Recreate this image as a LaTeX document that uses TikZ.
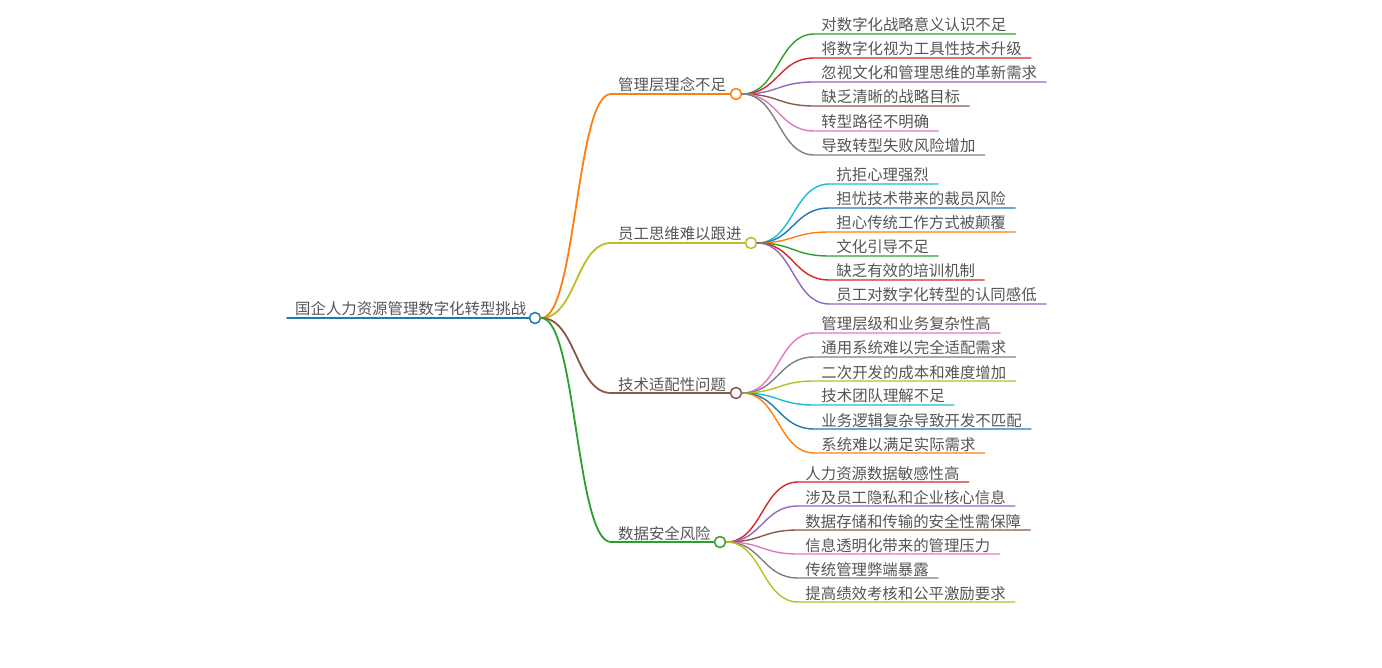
\documentclass[tikz,border=0pt]{standalone}
\usepackage{fontspec}
\setmainfont{Noto Sans CJK SC}
\usepackage{xcolor}
\usepackage{tikz}
\usetikzlibrary{calc,positioning}
\definecolor{mblue}{HTML}{1F77B4}
\definecolor{morange}{HTML}{FF7F0E}
\definecolor{mgreen}{HTML}{2CA02C}
\definecolor{mred}{HTML}{D62728}
\definecolor{mpurple}{HTML}{9467BD}
\definecolor{mbrown}{HTML}{8C564B}
\definecolor{mpink}{HTML}{E377C2}
\definecolor{mgray}{HTML}{7F7F7F}
\definecolor{molive}{HTML}{BCBD22}
\definecolor{mcyan}{HTML}{17BECF}
\definecolor{txt}{RGB}{85,85,85}

\begin{document}
\begin{tikzpicture}[x=1pt,y=-1pt,line cap=round,
  font=\fontsize{15.4}{18}\selectfont,
  dot/.style={circle,draw,fill=white,line width=1.5pt,inner sep=0pt,minimum size=11pt},
  lbl/.style={anchor=base west,inner sep=0pt,text=txt},
  link/.style={line width=1.8pt},
  twig/.style={line width=1.4pt}]
  \useasboundingbox (0,0) rectangle (1382,668);
  \node[dot,draw=mblue] (root) at (535,318) {};
  \node[lbl] (roottxt) at (295,315) {国企人力资源管理数字化转型挑战};
  \coordinate (r0) at (287,318);
  \draw[link,mblue] (r0) -- (root);
  \foreach \n/\y/\cx/\col/\txt in {1/94/736/morange/管理层理念不足, 2/243/751/molive/员工思维难以跟进, 3/393/736/mbrown/技术适配性问题, 4/542/720/mgreen/数据安全风险} {
    \node[dot,draw=\col] (b\n) at (\cx,\y) {};
    \coordinate (h\n) at (611,\y);
    \node[lbl] (t\n) at (618,\y-3) {\txt};
    \draw[link,\col] (root.east) .. controls +(35,0) and +(-35,0) .. (h\n) -- (b\n.west);
  }
  \foreach \i/\y/\col/\txt in {1/34/mgreen/对数字化战略意义认识不足, 2/58/mred/将数字化视为工具性技术升级, 3/82/mpurple/忽视文化和管理思维的革新需求, 4/106/mbrown/缺乏清晰的战略目标, 5/131/mpink/转型路径不明确, 6/155/mgray/导致转型失败风险增加} {
    \coordinate (s1\i) at ($(b1.east |- 0,\y)+(72,0)$);
    \node[lbl] (l1\i) at ($(s1\i)+(7,-3)$) {\txt};
    \draw[twig,\col] (b1.east) .. controls +(36,0) and +(-36,0) .. (s1\i) -- ($(s1\i -| l1\i.east)+(9,0)$);
  }
  \foreach \i/\y/\col/\txt in {1/184/mcyan/抗拒心理强烈, 2/208/mblue/担忧技术带来的裁员风险, 3/232/morange/担心传统工作方式被颠覆, 4/256/mgreen/文化引导不足, 5/280/mred/缺乏有效的培训机制, 6/304/mpurple/员工对数字化转型的认同感低} {
    \coordinate (s2\i) at ($(b2.east |- 0,\y)+(72,0)$);
    \node[lbl] (l2\i) at ($(s2\i)+(7,-3)$) {\txt};
    \draw[twig,\col] (b2.east) .. controls +(36,0) and +(-36,0) .. (s2\i) -- ($(s2\i -| l2\i.east)+(9,0)$);
  }
  \foreach \i/\y/\col/\txt in {1/333/mpink/管理层级和业务复杂性高, 2/357/mgray/通用系统难以完全适配需求, 3/381/molive/二次开发的成本和难度增加, 4/405/mcyan/技术团队理解不足, 5/429/mblue/业务逻辑复杂导致开发不匹配, 6/453/morange/系统难以满足实际需求} {
    \coordinate (s3\i) at ($(b3.east |- 0,\y)+(72,0)$);
    \node[lbl] (l3\i) at ($(s3\i)+(7,-3)$) {\txt};
    \draw[twig,\col] (b3.east) .. controls +(36,0) and +(-36,0) .. (s3\i) -- ($(s3\i -| l3\i.east)+(9,0)$);
  }
  \foreach \i/\y/\col/\txt in {1/482/mred/人力资源数据敏感性高, 2/506/mpurple/涉及员工隐私和企业核心信息, 3/530/mbrown/数据存储和传输的安全性需保障, 4/554/mpink/信息透明化带来的管理压力, 5/578/mgray/传统管理弊端暴露, 6/602/molive/提高绩效考核和公平激励要求} {
    \coordinate (s4\i) at ($(b4.east |- 0,\y)+(72,0)$);
    \node[lbl] (l4\i) at ($(s4\i)+(7,-3)$) {\txt};
    \draw[twig,\col] (b4.east) .. controls +(36,0) and +(-36,0) .. (s4\i) -- ($(s4\i -| l4\i.east)+(9,0)$);
  }
\end{tikzpicture}
\end{document}
